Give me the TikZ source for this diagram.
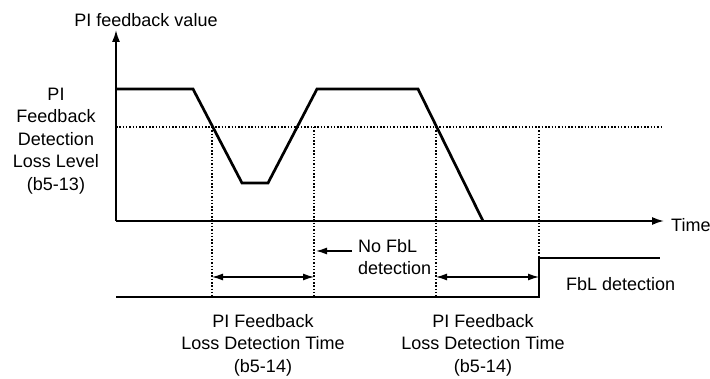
\documentclass[tikz,border=0pt]{standalone}
\usepackage{fontspec}
\setmainfont{Liberation Sans}
\usetikzlibrary{arrows.meta}

\begin{document}
\begin{tikzpicture}[x=1pt, y=-1pt]
	\tikzstyle{every node} = [font=\fontsize{18}{22.5}\selectfont, inner sep=0pt]
	\tikzstyle{axis} = [line width=1.7pt, -{Latex[length=12pt, width=8pt]}]
	\tikzstyle{curve} = [line width=2.7pt, line join=miter]
	\tikzstyle{level} = [line width=1.2pt, dash pattern=on 1.5pt off 1.8pt]
	\tikzstyle{span} = [line width=1.3pt, {Latex[length=11pt, width=7pt]}-{Latex[length=11pt, width=7pt]}]
	\useasboundingbox (0,0) rectangle (710,379);
	\coordinate (O) at (116,221);
	\coordinate (Ytop) at (116,30);
	\coordinate (Xend) at (664,221);
	\coordinate (P0) at (116,89);
	\coordinate (P1) at (193,89);
	\coordinate (P2) at (242,183);
	\coordinate (P3) at (268,183);
	\coordinate (P4) at (317,89);
	\coordinate (P5) at (418,89);
	\coordinate (P6) at (483,221);
	\coordinate (L0) at (116,127);
	\coordinate (L1) at (662,127);
	\coordinate (S0) at (116,297);
	\coordinate (S1) at (539,297);
	\coordinate (S2) at (539,258);
	\coordinate (S3) at (660,258);
	\coordinate (A1) at (212,127);
	\coordinate (A2) at (314,127);
	\coordinate (A3) at (436,127);
	\coordinate (A4) at (539,127);
	\coordinate (B1) at (212,297);
	\coordinate (B2) at (314,297);
	\coordinate (B3) at (436,297);
	\coordinate (B4) at (539,297);
	\coordinate (C1) at (212,277);
	\coordinate (C2) at (314,277);
	\coordinate (C3) at (436,277);
	\coordinate (C4) at (539,277);
	\coordinate (N0) at (352,251);
	\coordinate (N1) at (316,251);
	\node (yLabel) at (146,20) {PI feedback value};
	\node (xLabel) [anchor=west] at (671,225) {Time};
	\node (lossLevel) [align=center] at (56,141) {PI\\Feedback\\Detection\\Loss Level\\(b5-13)};
	\node (noFbl) [align=left, anchor=west] at (358,257) {No FbL\\detection};
	\node (fbl) [anchor=west] at (566,284) {FbL detection};
	\node (lossTime1) [align=center] at (263,345) {PI Feedback\\Loss Detection Time\\(b5-14)};
	\node (lossTime2) [align=center] at (483,345) {PI Feedback\\Loss Detection Time\\(b5-14)};
	\draw [axis] (O)--(Ytop);
	\draw [axis] (O)--(Xend);
	\draw [level] (L0)--(L1);
	\draw [level] (A1)--(B1);
	\draw [level] (A2)--(B2);
	\draw [level] (A3)--(B3);
	\draw [level] (A4)--(B4);
	\draw [curve] (P0)--(P1)--(P2)--(P3)--(P4)--(P5)--(P6);
	\draw [curve] (S0)--(S1)--(S2)--(S3);
	\draw [span] (C1)--(C2);
	\draw [span] (C3)--(C4);
	\draw [line width=1.3pt, -{Latex[length=11pt, width=7pt]}] (N0)--(N1);
\end{tikzpicture}
\end{document}
